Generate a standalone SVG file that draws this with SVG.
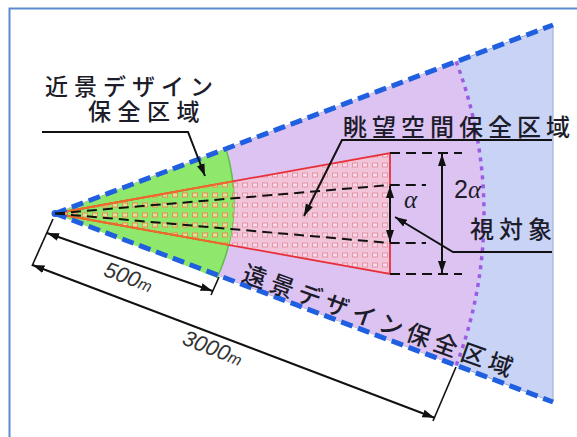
<svg xmlns="http://www.w3.org/2000/svg" width="577" height="437" viewBox="0 0 577 437">
<style>
.jp{font-family:"Noto Sans CJK JP","Noto Sans",sans-serif;font-size:24px;font-weight:500;fill:#1c1c2a;letter-spacing:5px}
.dim{font-family:"Liberation Sans",Arial,sans-serif;fill:#333;font-style:italic;font-size:22px}
.gr{font-family:"Liberation Serif","Times New Roman",serif;font-style:italic;fill:#1c1c2a}
.blk{stroke:#111;stroke-width:2;fill:none}
.thin{stroke:#111;stroke-width:1.6;fill:none}
.dash{stroke:#111;stroke-width:2;fill:none;stroke-dasharray:10 6}
.bd{stroke:#1f5fe0;stroke-width:5;fill:none;stroke-dasharray:12 6}
</style>
<defs>
<pattern id="pk" width="10" height="10" patternUnits="userSpaceOnUse">
<rect width="10" height="10" fill="#f2c4da"/>
<rect x="2.5" y="3" width="5" height="4" fill="#f9dde8" stroke="#e494a8" stroke-width="1"/>
</pattern>
<pattern id="og" width="10" height="10" patternUnits="userSpaceOnUse">
<rect width="10" height="10" fill="#8fe86c"/>
<rect x="2.5" y="3" width="5" height="4" fill="#c8eea0" stroke="#f08a50" stroke-width="1"/>
</pattern>
<clipPath id="gc"><path d="M55,213.5 L226,149 A180,180 0 0 1 217,278 Z"/></clipPath>
<marker id="ah" viewBox="0 0 12 10" refX="12" refY="5" markerWidth="12" markerHeight="10" markerUnits="userSpaceOnUse" orient="auto-start-reverse"><path d="M0,1 L12,5 L0,9 Z" fill="#111"/></marker>
</defs>
<rect x="9.5" y="8.5" width="580" height="440" fill="#fff" stroke="#5b8bd0" stroke-width="2"/>

<g id="far-zone">
<polygon points="55,213.5 553,25 553,402" fill="#c9d3f6" stroke="#9aa8d0" stroke-width="1"/>
<path d="M55,213.5 L456.2,61.6 A429,429 0 0 1 456.2,365.4 Z" fill="#dcc3f2"/>
<path d="M456.2,61.6 A429,429 0 0 1 456.2,365.4" fill="none" stroke="#9a5ce0" stroke-width="3.5" stroke-dasharray="4 5"/>
</g>

<g id="view-space">
<polygon points="55,213.5 390,153 390,274" fill="url(#pk)"/>
</g>

<g id="near-zone">
<path d="M55,213.5 L226,149 A180,180 0 0 1 217,278 Z" fill="#8fe86c"/>
<path d="M226,149 A180,180 0 0 1 217,278" fill="none" stroke="#5cbf4a" stroke-width="1.5"/>
<polygon points="55,213.5 390,153 390,274" fill="url(#og)" clip-path="url(#gc)"/>
</g>

<g id="view-space-outline">
<polygon points="55,213.5 390,153 390,274" fill="none" stroke="#e8303a" stroke-width="1.8"/>
<polygon points="55,213.5 390,153 390,274" fill="none" stroke="#f06a28" stroke-width="1.8" clip-path="url(#gc)"/>
</g>

<g id="connectors">
<path class="bd" d="M55,213.5 L553,25"/>
<path class="bd" d="M55,213.5 L553,402"/>
<circle cx="55" cy="213.5" r="3.5" fill="#1f5fe0"/>
<path class="dash" d="M55,213.5 L390,185 L426,185"/>
<path class="dash" d="M55,213.5 L390,243 L426,243"/>
<path class="dash" d="M390,153 H462"/>
<path class="dash" d="M390,274 H462"/>
<path class="blk" d="M390,186 V242" marker-start="url(#ah)" marker-end="url(#ah)"/>
<path class="blk" d="M442,154 V273" marker-start="url(#ah)" marker-end="url(#ah)"/>
<path class="blk" d="M552,252 H453 L395,217" marker-end="url(#ah)"/>
<path class="blk" d="M552,140 H342 L304,216" marker-end="url(#ah)"/>
<path class="blk" d="M42,132 H188 L205,176" marker-end="url(#ah)"/>
<path class="thin" d="M53,219 L32,266"/>
<path class="thin" d="M219,277 L211,295"/>
<path class="thin" d="M456,367 L433,421"/>
<path class="blk" d="M47,233 L212.5,291" marker-start="url(#ah)" marker-end="url(#ah)"/>
<path class="blk" d="M32.5,265 L434.4,417.7" marker-start="url(#ah)" marker-end="url(#ah)"/>
</g>

<g id="labels">
<text class="jp" style="font-size:23px"><tspan x="45" y="95" style="letter-spacing:6px">近景デザイン</tspan><tspan x="88" y="120" style="letter-spacing:6.5px">保全区域</tspan></text>
<text class="jp" x="343" y="136">眺望空間保全区域</text>
<text class="jp" x="470" y="238">視対象</text>
<text class="jp" transform="translate(240.6,280.4) rotate(19.8)">遠景デザイン保全区域</text>
<text class="gr" x="404" y="208" font-size="25">α</text>
<text x="454" y="198" font-size="25"><tspan font-family="Liberation Sans, Arial, sans-serif" fill="#1c1c2a">2</tspan><tspan class="gr">α</tspan></text>
<text class="dim" text-anchor="middle" transform="translate(126,284) rotate(20)">500<tspan font-size="16">m</tspan></text>
<text class="dim" text-anchor="middle" transform="translate(210,355) rotate(21)">3000<tspan font-size="16">m</tspan></text>
</g>
</svg>
